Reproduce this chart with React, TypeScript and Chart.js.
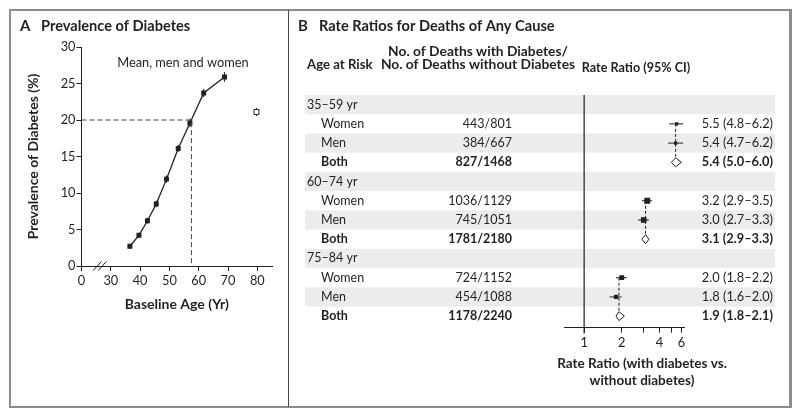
import React, { useEffect, useRef } from "react";
import { Chart, registerables } from "chart.js";
Chart.register(...registerables);

const FONT = "Lato, 'Open Sans', sans-serif";
const INK = "#231f20";
const BAND = "#ececec";

// ---------- Panel A data ----------
const AGE = [36.5, 39.6, 42.5, 45.5, 49.0, 53.0, 57.0, 61.7, 68.8];
const PREV = [2.7, 4.2, 6.2, 8.5, 11.9, 16.1, 19.6, 23.7, 25.9];
const PREV_ERR = [0.35, 0.35, 0.4, 0.45, 0.5, 0.5, 0.6, 0.55, 0.65];
const OLD_AGE = [79.7];
const OLD_PREV = [21.1];
const OLD_ERR = [0.55];
const REF_AGE = 57.5;
const REF_PREV = 20;
const A_X_TICKS = [20, 30, 40, 50, 60, 70, 80];
const A_X_LABELS = ["0", "30", "40", "50", "60", "70", "80"];
const A_Y_TICKS = [0, 5, 10, 15, 20, 25, 30];

// ---------- Panel B data ----------
const GROUPS = ["35–59 yr", "60–74 yr", "75–84 yr"];
const SUBGROUPS = ["Women", "Men", "Both"];
const DEATHS = [
  ["443/801", "384/667", "827/1468"],
  ["1036/1129", "745/1051", "1781/2180"],
  ["724/1152", "454/1088", "1178/2240"],
];
const RR = [
  [5.5, 5.4, 5.4],
  [3.2, 3.0, 3.1],
  [2.0, 1.8, 1.9],
];
const RR_LO = [
  [4.8, 4.7, 5.0],
  [2.9, 2.7, 2.9],
  [1.8, 1.6, 1.8],
];
const RR_HI = [
  [6.2, 6.2, 6.0],
  [3.5, 3.3, 3.3],
  [2.2, 2.0, 2.1],
];
const B_X_TICKS = [1, 2, 3, 4, 5, 6];
const B_X_LABELS = ["1", "2", "", "4", "", "6"];

// style only: marker radii for Women / Men rows
const MARK_R = [
  [2.4, 2.4],
  [4.2, 4.0],
  [3.4, 3.0],
];

const rowOf = (g: number, s: number) => g * 4 + 1 + s;

function txt(ctx: CanvasRenderingContext2D, s: string, x: number, y: number, size = 12.5, weight = "normal", align: CanvasTextAlign = "left") {
  ctx.font = `${weight} ${size}px ${FONT}`;
  ctx.textAlign = align;
  ctx.textBaseline = "middle";
  ctx.fillStyle = INK;
  ctx.fillText(s, x, y);
}

const panelAPlugin = {
  id: "panelA",
  beforeDatasetsDraw(chart: any) {
    const { ctx, scales } = chart;
    const x = scales.x, y = scales.y;
    ctx.save();
    ctx.strokeStyle = INK;
    ctx.lineWidth = 1;
    const bars = (ages: number[], vals: number[], errs: number[]) =>
      ages.forEach((a, i) => {
        const px = x.getPixelForValue(a);
        ctx.beginPath();
        ctx.moveTo(px, y.getPixelForValue(vals[i] - errs[i]));
        ctx.lineTo(px, y.getPixelForValue(vals[i] + errs[i]));
        ctx.stroke();
      });
    bars(AGE, PREV, PREV_ERR);
    bars(OLD_AGE, OLD_PREV, OLD_ERR);
    ctx.restore();
  },
  afterDraw(chart: any) {
    const { ctx, scales } = chart;
    const x = scales.x, y = scales.y;
    ctx.save();
    txt(ctx, "A", 20, 26, 15, "bold");
    txt(ctx, "Prevalence of Diabetes", 41, 26, 14.6, "bold");
    txt(ctx, "Mean, men and women", x.getPixelForValue(54.6), y.getPixelForValue(27.8), 12.8, "normal", "center");
    // axis break marks
    const yb = y.getPixelForValue(0);
    ctx.strokeStyle = INK;
    ctx.lineWidth = 1;
    [25.4, 27.1].forEach((a) => {
      const xc = x.getPixelForValue(a);
      ctx.beginPath();
      ctx.moveTo(xc - 4, yb + 4.5);
      ctx.lineTo(xc + 4, yb - 4.5);
      ctx.stroke();
    });
    ctx.restore();
  },
};

const panelBPlugin = {
  id: "panelB",
  beforeDraw(chart: any) {
    const { ctx, scales } = chart;
    const y = scales.y;
    ctx.save();
    ctx.fillStyle = BAND;
    for (let r = 0; r < 12; r += 2) {
      const t = y.getPixelForValue(r - 0.5);
      const b = y.getPixelForValue(r + 0.5);
      ctx.fillRect(16, t, 470, b - t);
    }
    ctx.restore();
  },
  afterDatasetsDraw(chart: any) {
    const { ctx, scales } = chart;
    const x = scales.x, y = scales.y;
    ctx.save();
    ctx.strokeStyle = INK;
    ctx.fillStyle = "#fff";
    ctx.lineWidth = 1;
    GROUPS.forEach((_, g) => {
      const xl = x.getPixelForValue(RR_LO[g][2]);
      const xr = x.getPixelForValue(RR_HI[g][2]);
      const xc = x.getPixelForValue(RR[g][2]);
      const yc = y.getPixelForValue(rowOf(g, 2));
      ctx.beginPath();
      ctx.moveTo(xl, yc);
      ctx.lineTo(xc, yc - 4.5);
      ctx.lineTo(xr, yc);
      ctx.lineTo(xc, yc + 4.5);
      ctx.closePath();
      ctx.fill();
      ctx.stroke();
    });
    ctx.restore();
  },
  afterDraw(chart: any) {
    const { ctx, scales } = chart;
    const y = scales.y;
    ctx.save();
    txt(ctx, "B", 9, 26, 15, "bold");
    txt(ctx, "Rate Ratios for Deaths of Any Cause", 30, 26, 14.6, "bold");
    txt(ctx, "Age at Risk", 18, 65, 13.2, "bold");
    txt(ctx, "No. of Deaths with Diabetes/", 189, 52, 13.8, "bold", "center");
    txt(ctx, "No. of Deaths without Diabetes", 189, 65, 13.8, "bold", "center");
    txt(ctx, "Rate Ratio (95% CI)", 347, 68, 12.6, "bold", "center");
    GROUPS.forEach((gl, g) => {
      txt(ctx, gl, 18, y.getPixelForValue(g * 4), 12.5);
      SUBGROUPS.forEach((sl, s) => {
        const yy = y.getPixelForValue(rowOf(g, s));
        const w = s === 2 ? "bold" : "normal";
        txt(ctx, sl, 32, yy, 12.5, w);
        txt(ctx, DEATHS[g][s], 223, yy, 12.5, w, "right");
        txt(ctx, `${RR[g][s].toFixed(1)} (${RR_LO[g][s].toFixed(1)}–${RR_HI[g][s].toFixed(1)})`, 484, yy, 12.8, w, "right");
      });
    });
    txt(ctx, "Rate Ratio (with diabetes vs.", 353, 364, 13.5, "bold", "center");
    txt(ctx, "without diabetes)", 353, 381, 13.5, "bold", "center");
    ctx.restore();
  },
};

export default function App() {
  const refA = useRef<HTMLCanvasElement>(null);
  const refB = useRef<HTMLCanvasElement>(null);

  useEffect(() => {
    const tickFont = { family: FONT, size: 12.8 };
    const chartA = new Chart(refA.current as HTMLCanvasElement, {
      type: "line",
      data: {
        datasets: [
          {
            data: [
              { x: 20, y: REF_PREV },
              { x: REF_AGE, y: REF_PREV },
              { x: REF_AGE, y: 0 },
            ],
            borderColor: "#444",
            borderWidth: 1,
            borderDash: [5, 3],
            pointRadius: 0,
            fill: false,
            tension: 0,
          },
          {
            data: AGE.map((a, i) => ({ x: a, y: PREV[i] })),
            borderColor: INK,
            borderWidth: 1.3,
            pointStyle: "rect",
            pointRadius: 3.5,
            pointBackgroundColor: INK,
            pointBorderColor: INK,
            pointBorderWidth: 0,
            fill: false,
            tension: 0,
          },
          {
            data: OLD_AGE.map((a, i) => ({ x: a, y: OLD_PREV[i] })),
            showLine: false,
            pointStyle: "rect",
            pointRadius: 3.5,
            pointBackgroundColor: "#fff",
            pointBorderColor: INK,
            pointBorderWidth: 1,
          },
        ],
      } as any,
      options: {
        responsive: false,
        animation: false,
        events: [],
        layout: { padding: { left: 20, top: 47, right: 17, bottom: 101 } },
        plugins: { legend: { display: false }, tooltip: { enabled: false } },
        scales: {
          x: {
            type: "linear",
            min: 20,
            max: 85,
            afterBuildTicks: (s: any) => {
              s.ticks = A_X_TICKS.map((v) => ({ value: v }));
            },
            afterFit: (s: any) => {
              s.height = 50;
            },
            ticks: {
              callback: (v: any) => A_X_LABELS[A_X_TICKS.indexOf(Number(v))],
              font: tickFont,
              color: INK,
              padding: 2.5,
              maxRotation: 0,
              autoSkip: false,
            },
            grid: { display: true, drawOnChartArea: false, drawTicks: true, tickLength: 5, color: INK, lineWidth: 1 },
            border: { display: true, color: INK, width: 1 },
            title: {
              display: true,
              text: "Baseline Age (Yr)",
              font: { family: FONT, size: 14, weight: "bold" },
              color: INK,
              padding: { top: 0, bottom: 3.5 },
            },
          },
          y: {
            type: "linear",
            min: 0,
            max: 30,
            afterBuildTicks: (s: any) => {
              s.ticks = A_Y_TICKS.map((v) => ({ value: v }));
            },
            afterFit: (s: any) => {
              s.width = 61.5;
            },
            ticks: { font: tickFont, color: INK, padding: 1 },
            grid: { display: true, drawOnChartArea: false, drawTicks: true, tickLength: 5, color: INK, lineWidth: 1 },
            border: { display: true, color: INK, width: 1 },
            title: {
              display: true,
              text: "Prevalence of Diabetes (%)",
              font: { family: FONT, size: 14, weight: "bold" },
              color: INK,
              padding: { top: 5, bottom: 0 },
            },
          },
        },
      } as any,
      plugins: [panelAPlugin],
    });

    const markerData: any[] = [];
    const markerR: number[] = [];
    const ciSets: any[] = [];
    GROUPS.forEach((_, g) => {
      [0, 1].forEach((s) => {
        markerData.push({ x: RR[g][s], y: rowOf(g, s) });
        markerR.push(MARK_R[g][s]);
        ciSets.push({
          type: "line",
          data: [
            { x: RR_LO[g][s], y: rowOf(g, s) },
            { x: RR_HI[g][s], y: rowOf(g, s) },
          ],
          borderColor: INK,
          borderWidth: 1,
          pointRadius: 0,
        });
      });
    });

    const chartB = new Chart(refB.current as HTMLCanvasElement, {
      type: "line",
      data: {
        datasets: [
          {
            type: "line",
            data: [
              { x: 1, y: -0.5 },
              { x: 1, y: 11.9 },
            ],
            borderColor: INK,
            borderWidth: 1.2,
            pointRadius: 0,
            clip: false,
          },
          ...GROUPS.map((_, g) => ({
            type: "line",
            data: [
              { x: RR[g][2], y: rowOf(g, 0) },
              { x: RR[g][2], y: rowOf(g, 2) },
            ],
            borderColor: INK,
            borderWidth: 1,
            borderDash: [3, 2],
            pointRadius: 0,
          })),
          ...ciSets,
          {
            type: "scatter",
            data: markerData,
            pointStyle: "rect",
            pointRadius: markerR,
            backgroundColor: INK,
            borderColor: INK,
            borderWidth: 0,
          },
        ],
      } as any,
      options: {
        responsive: false,
        animation: false,
        events: [],
        layout: { padding: { left: 275, top: 95, right: 116, bottom: 69.3 } },
        plugins: { legend: { display: false }, tooltip: { enabled: false } },
        scales: {
          x: {
            type: "logarithmic",
            min: 0.69,
            max: 6.3,
            afterBuildTicks: (s: any) => {
              s.ticks = B_X_TICKS.map((v) => ({ value: v }));
            },
            afterFit: (s: any) => {
              s.height = 20;
            },
            ticks: {
              callback: (v: any) => B_X_LABELS[B_X_TICKS.indexOf(Number(v))],
              font: tickFont,
              color: INK,
              padding: 2,
              maxRotation: 0,
              autoSkip: false,
            },
            grid: { display: true, drawOnChartArea: false, drawTicks: true, tickLength: 5, color: INK, lineWidth: 1 },
            border: { display: true, color: INK, width: 1 },
          },
          y: {
            type: "linear",
            min: -0.5,
            max: 11.6,
            reverse: true,
            display: false,
          },
        },
      } as any,
      plugins: [panelBPlugin],
    });

    return () => {
      chartA.destroy();
      chartB.destroy();
    };
  }, []);

  return (
    <div style={{ position: "absolute", left: 0, top: 0, width: 800, height: 417, background: "#fff", overflow: "hidden" }}>
      <canvas ref={refA} width={289} height={417} style={{ position: "absolute", left: 0, top: 0, width: 289, height: 417 }} />
      <canvas ref={refB} width={511} height={417} style={{ position: "absolute", left: 289, top: 0, width: 511, height: 417 }} />
      <div
        style={{
          position: "absolute",
          left: 9,
          top: 9,
          width: 783,
          height: 399,
          border: "2px solid #8c8c8c",
          borderRightWidth: 3,
          boxSizing: "border-box",
        }}
      />
      <div style={{ position: "absolute", left: 288, top: 10, width: 1, height: 397, background: "#4a4a4a" }} />
    </div>
  );
}
